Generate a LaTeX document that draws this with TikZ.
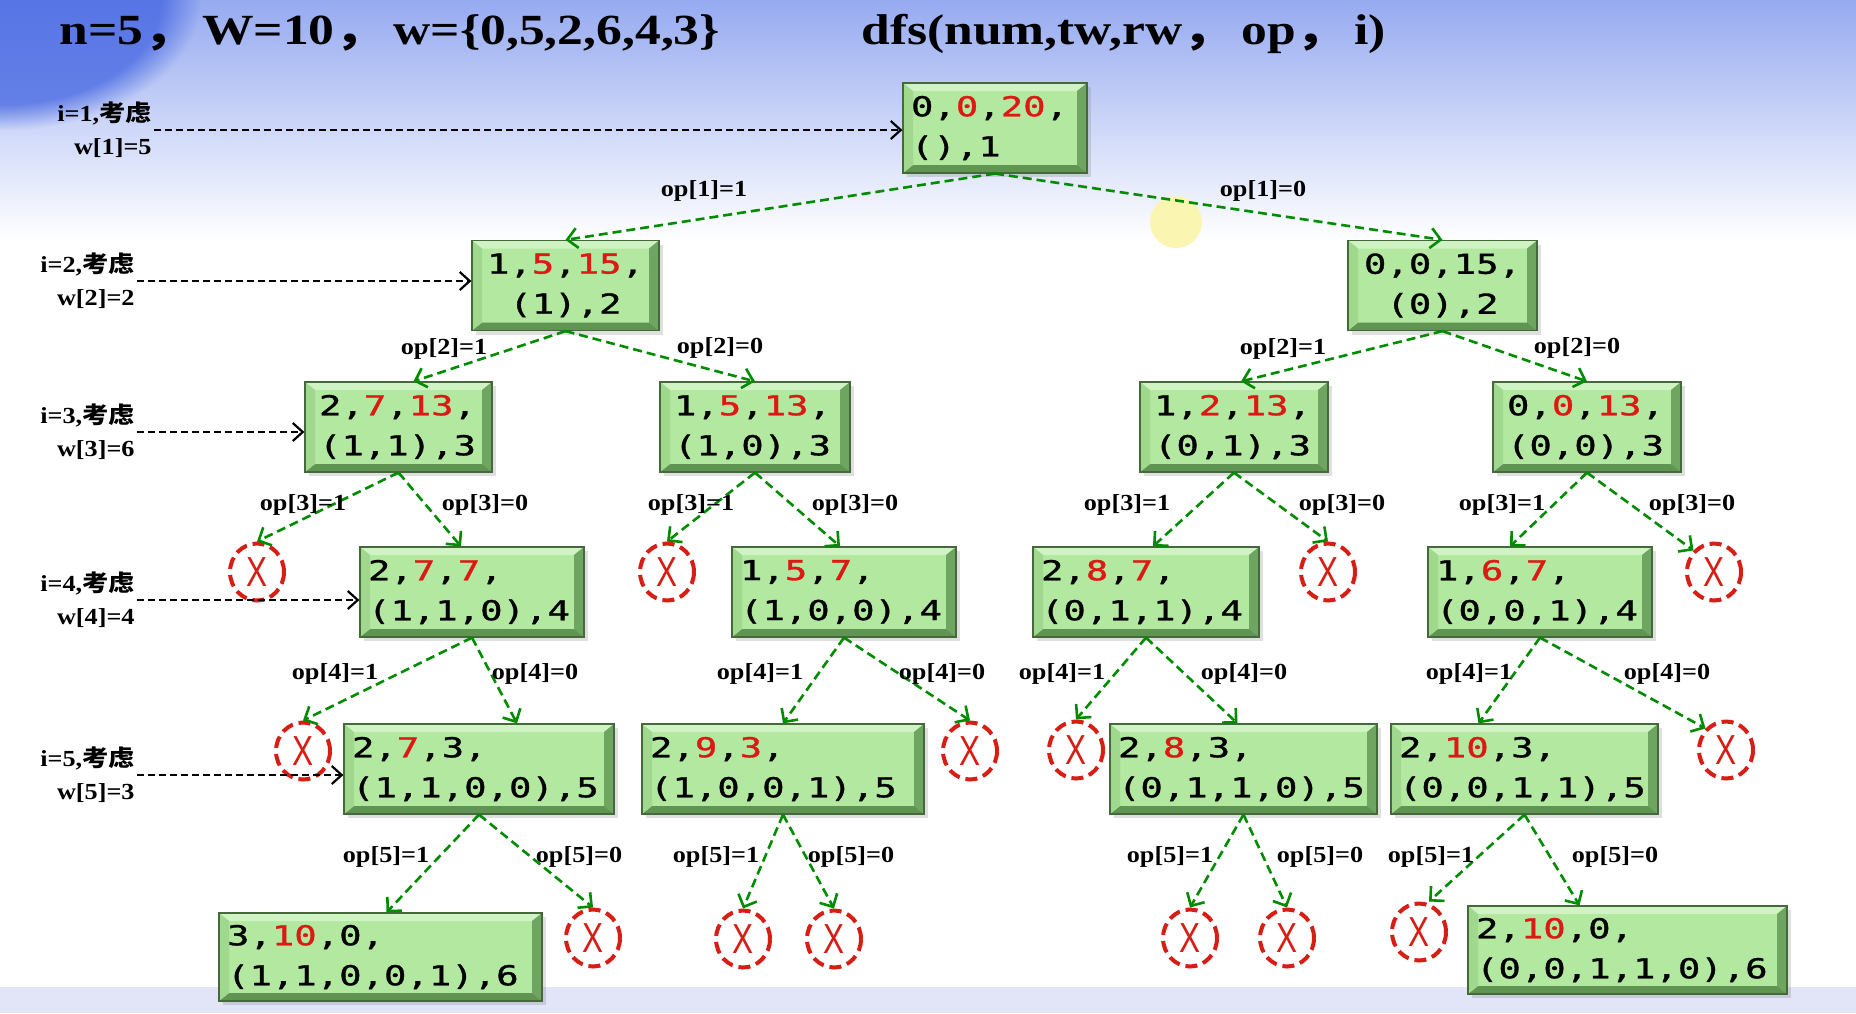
\documentclass[tikz,border=0pt]{standalone}
\usepackage{fontspec}
\setmainfont{Liberation Serif}
\newfontfamily\lblfont[FakeStretch=1.14]{Liberation Serif}
\newfontfamily\ttlfont[FakeStretch=1.2]{Liberation Serif}
\newfontfamily\cjklbl[FakeStretch=1.14]{Noto Sans CJK SC}
\newfontfamily\cjkttl[FakeStretch=1.2]{Noto Sans CJK SC}
\newfontfamily\boxmono[FakeStretch=1.36,FakeBold=1.2]{DejaVu Sans Mono}
\newfontfamily\xmark[FakeStretch=0.75]{Liberation Sans}
\usetikzlibrary{arrows.meta,shadows,fadings,shapes.geometric}
\definecolor{boxface}{RGB}{178,232,160}
\definecolor{bevtop}{RGB}{208,243,196}
\definecolor{bevleft}{RGB}{160,216,142}
\definecolor{bevright}{RGB}{110,165,96}
\definecolor{bevbot}{RGB}{96,148,82}
\definecolor{boxline}{RGB}{70,105,60}
\definecolor{numred}{RGB}{222,24,18}
\definecolor{edgegreen}{RGB}{0,140,0}
\definecolor{xred}{RGB}{214,30,20}
\definecolor{bgA}{RGB}{150,170,240}
\definecolor{bgDeep}{RGB}{60,95,225}
\definecolor{bgBot}{RGB}{226,228,247}
\definecolor{cursorY}{RGB}{250,246,178}
\newcommand\rn[1]{\textcolor{numred}{#1}}
\newcommand\kaolv{{\cjklbl\bfseries 考虑}}
\newcommand\fwc{{\cjkttl\bfseries ，}}
\tikzset{
  box/.style={rectangle, fill=boxface, draw=boxline, line width=0.6pt,
    inner xsep=4pt, inner ysep=0pt, minimum height=45pt, align=left,
    font=\boxmono\fontsize{13.7pt}{20pt}\selectfont,
    drop shadow={opacity=0.25, shadow xshift=2pt, shadow yshift=-2pt},
    path picture={
      \path (path picture bounding box.north west) coordinate (q1)
            (path picture bounding box.north east) coordinate (q2)
            (path picture bounding box.south east) coordinate (q3)
            (path picture bounding box.south west) coordinate (q4);
      \path ([shift={(5pt,-4pt)}]q1) coordinate (r1)
            ([shift={(-5pt,-4pt)}]q2) coordinate (r2)
            ([shift={(-5pt,4pt)}]q3) coordinate (r3)
            ([shift={(5pt,4pt)}]q4) coordinate (r4);
      \fill[bevtop] (q1) -- (q2) -- (r2) -- (r1) -- cycle;
      \fill[bevright] (q2) -- (q3) -- (r3) -- (r2) -- cycle;
      \fill[bevbot] (q3) -- (q4) -- (r4) -- (r3) -- cycle;
      \fill[bevleft] (q4) -- (q1) -- (r1) -- (r4) -- cycle;
    }},
  xnode/.style={ellipse, draw=xred, line width=2pt, dash pattern=on 6pt off 3pt,
    minimum width=27pt, minimum height=28.5pt, inner sep=0pt, text=xred,
    font=\xmark\fontsize{21pt}{21pt}\selectfont},
  gedge/.style={draw=edgegreen, line width=1.3pt, dash pattern=on 4.5pt off 2.5pt,
    -{Straight Barb[length=5pt,width=10pt]}},
  bedge/.style={draw=black, line width=1.1pt, dash pattern=on 3.5pt off 2pt,
    -{Straight Barb[length=5pt,width=9pt]}},
  oplbl/.style={font=\lblfont\bfseries\fontsize{11.5pt}{13pt}\selectfont, inner sep=0pt},
  sidelbl/.style={font=\lblfont\bfseries\fontsize{11.5pt}{16.5pt}\selectfont,
    align=right, inner sep=1pt, anchor=east},
  ttl/.style={font=\ttlfont\bfseries\fontsize{21.5pt}{24pt}\selectfont, inner sep=0pt, anchor=base west}
}
\begin{document}
\begin{tikzpicture}[x=0.5pt,y=-0.5pt]
\useasboundingbox (0,0) rectangle (1856,1013);
% background
\fill[white] (0,0) rectangle (1856,1013);
\shade[top color=bgA, bottom color=white] (0,0) rectangle (1856,240);
\fill[bgDeep, opacity=0.7, path fading=circle with fuzzy edge 20 percent] (-200,-130) rectangle (200,130);
\fill[bgBot] (0,987) rectangle (1856,1013);
\fill[cursorY] (1176,222) circle (26);

% titles
\node[ttl] (t1) at (59,44) {n=5\fwc\,W=10\fwc\,w=\{0,5,2,6,4,3\}};
\node[ttl] (t2) at (861,44) {dfs(num,tw,rw\fwc\,op\fwc\,i)};

% boxes
\node[box, text width=84pt] (root) at (995,128) {0,\rn{0},\rn{20},\\(),1};
\node[box, text width=85.5pt, align=center] (N2L) at (565.5,285.5) {1,\rn{5},\rn{15},\\(1),2};
\node[box, text width=86.5pt, align=center] (N2R) at (1442.5,285.5) {0,0,15,\\(0),2};
\node[box, inner xsep=7pt, text width=79.5pt] (N3a) at (398.5,427) {2,\rn{7},\rn{13},\\(1,1),3};
\node[box, inner xsep=7pt, text width=81pt] (N3b) at (755,427) {1,\rn{5},\rn{13},\\(1,0),3};
\node[box, inner xsep=7pt, text width=80pt] (N3c) at (1234,427) {1,\rn{2},\rn{13},\\(0,1),3};
\node[box, inner xsep=7pt, text width=80pt] (N3d) at (1587,427) {0,\rn{0},\rn{13},\\(0,0),3};
\node[box, text width=104pt] (N4a) at (472,592) {2,\rn{7},\rn{7},\\(1,1,0),4};
\node[box, text width=104pt] (N4b) at (844,592) {1,\rn{5},\rn{7},\\(1,0,0),4};
\node[box, text width=105pt] (N4c) at (1146,592) {2,\rn{8},\rn{7},\\(0,1,1),4};
\node[box, text width=104pt] (N4d) at (1540,592) {1,\rn{6},\rn{7},\\(0,0,1),4};
\node[box, text width=127pt] (N5a) at (479,769) {2,\rn{7},3,\\(1,1,0,0),5};
\node[box, text width=133pt] (N5b) at (783,769) {2,\rn{9},\rn{3},\\(1,0,0,1),5};
\node[box, text width=125.5pt] (N5c) at (1243.5,769) {2,\rn{8},3,\\(0,1,1,0),5};
\node[box, text width=125.5pt] (N5d) at (1524.5,769) {2,\rn{10},3,\\(0,0,1,1),5};
\node[box, text width=153.5pt, minimum height=44pt] (N6a) at (380.5,957) {3,\rn{10},0,\\(1,1,0,0,1),6};
\node[box, text width=151.5pt, minimum height=44pt] (N6b) at (1627.5,950) {2,\rn{10},0,\\(0,0,1,1,0),6};

% pruned markers
\node[xnode] (X3a) at (257,572) {X};
\node[xnode] (X3b) at (667,572) {X};
\node[xnode] (X3c) at (1328,572) {X};
\node[xnode] (X3d) at (1714,572) {X};
\node[xnode] (X4a) at (303,751) {X};
\node[xnode] (X4b) at (970,751) {X};
\node[xnode] (X4c) at (1076,750) {X};
\node[xnode] (X4d) at (1726,750) {X};
\node[xnode] (X5a) at (593,938) {X};
\node[xnode] (X5b1) at (743,939) {X};
\node[xnode] (X5b2) at (834,939) {X};
\node[xnode] (X5c1) at (1190,938) {X};
\node[xnode] (X5c2) at (1287,938) {X};
\node[xnode] (X5d) at (1419,932) {X};

% side labels
\node[sidelbl] (L1) at (154,130) {i=1,\kaolv\\w[1]=5};
\node[sidelbl] (L2) at (137,281) {i=2,\kaolv\\w[2]=2};
\node[sidelbl] (L3) at (137,432) {i=3,\kaolv\\w[3]=6};
\node[sidelbl] (L4) at (137,600) {i=4,\kaolv\\w[4]=4};
\node[sidelbl] (L5) at (137,775) {i=5,\kaolv\\w[5]=3};
\draw[bedge] (L1.east) -- (L1.east -| root.west);
\draw[bedge] (L2.east) -- (L2.east -| N2L.west);
\draw[bedge] (L3.east) -- (L3.east -| N3a.west);
\draw[bedge] (L4.east) -- (L4.east -| N4a.west);
\draw[bedge] (L5.east) -- (L5.east -| N5a.west);

% tree edges
\draw[gedge] (root.south) -- (N2L.north);
\draw[gedge] (root.south) -- (N2R.north);
\draw[gedge] (N2L.south) -- ([xshift=7.5pt]N3a.north);
\draw[gedge] (N2L.south) -- (N3b.north);
\draw[gedge] (N2R.south) -- ([xshift=3.5pt]N3c.north);
\draw[gedge] (N2R.south) -- (N3d.north);
\draw[gedge] (N3a.south) -- (X3a.north);
\draw[gedge] (N3a.south) -- ([xshift=-5.5pt]N4a.north);
\draw[gedge] (N3b.south) -- (X3b.north);
\draw[gedge] (N3b.south) -- ([xshift=-2pt]N4b.north);
\draw[gedge] (N3c.south) -- ([xshift=3.5pt]N4c.north);
\draw[gedge] (N3c.south) -- (X3c.north);
\draw[gedge] (N3d.south) -- ([xshift=-15pt]N4d.north);
\draw[gedge] (N3d.south) -- (X3d.north west);
\draw[gedge] (N4a.south) -- (X4a.north);
\draw[gedge] (N4a.south) -- ([xshift=19pt]N5a.north);
\draw[gedge] (N4b.south) -- (N5b.north);
\draw[gedge] (N4b.south) -- (X4b.north);
\draw[gedge] (N4c.south) -- (X4c.north);
\draw[gedge] (N4c.south) -- ([xshift=-3pt]N5c.north);
\draw[gedge] (N4d.south) -- ([xshift=-23pt]N5d.north);
\draw[gedge] (N4d.south) -- (X4d.north west);
\draw[gedge] (N5a.south) -- ([xshift=3pt]N6a.north);
\draw[gedge] (N5a.south) -- (X5a.north);
\draw[gedge] (N5b.south) -- (X5b1.north);
\draw[gedge] (N5b.south) -- (X5b2.north);
\draw[gedge] (N5c.south) -- (X5c1.north);
\draw[gedge] (N5c.south) -- (X5c2.north);
\draw[gedge] (N5d.south) -- ([xshift=5pt]X5d.north);
\draw[gedge] (N5d.south) -- ([xshift=-24pt]N6b.north);

% edge labels
\node[oplbl] (o1a) at (704,191) {op[1]=1};
\node[oplbl] (o1b) at (1263,191) {op[1]=0};
\node[oplbl] (o2a) at (444,349) {op[2]=1};
\node[oplbl] (o2b) at (720,348) {op[2]=0};
\node[oplbl] (o2c) at (1283,349) {op[2]=1};
\node[oplbl] (o2d) at (1577,348) {op[2]=0};
\node[oplbl] (o3a) at (303,505) {op[3]=1};
\node[oplbl] (o3b) at (485,505) {op[3]=0};
\node[oplbl] (o3c) at (691,505) {op[3]=1};
\node[oplbl] (o3d) at (855,505) {op[3]=0};
\node[oplbl] (o3e) at (1127,505) {op[3]=1};
\node[oplbl] (o3f) at (1342,505) {op[3]=0};
\node[oplbl] (o3g) at (1502,505) {op[3]=1};
\node[oplbl] (o3h) at (1692,505) {op[3]=0};
\node[oplbl] (o4a) at (335,674) {op[4]=1};
\node[oplbl] (o4b) at (535,674) {op[4]=0};
\node[oplbl] (o4c) at (760,674) {op[4]=1};
\node[oplbl] (o4d) at (942,674) {op[4]=0};
\node[oplbl] (o4e) at (1062,674) {op[4]=1};
\node[oplbl] (o4f) at (1244,674) {op[4]=0};
\node[oplbl] (o4g) at (1469,674) {op[4]=1};
\node[oplbl] (o4h) at (1667,674) {op[4]=0};
\node[oplbl] (o5a) at (386,857) {op[5]=1};
\node[oplbl] (o5b) at (579,857) {op[5]=0};
\node[oplbl] (o5c) at (716,857) {op[5]=1};
\node[oplbl] (o5d) at (851,857) {op[5]=0};
\node[oplbl] (o5e) at (1170,857) {op[5]=1};
\node[oplbl] (o5f) at (1320,857) {op[5]=0};
\node[oplbl] (o5g) at (1431,857) {op[5]=1};
\node[oplbl] (o5h) at (1615,857) {op[5]=0};
\end{tikzpicture}
\end{document}
